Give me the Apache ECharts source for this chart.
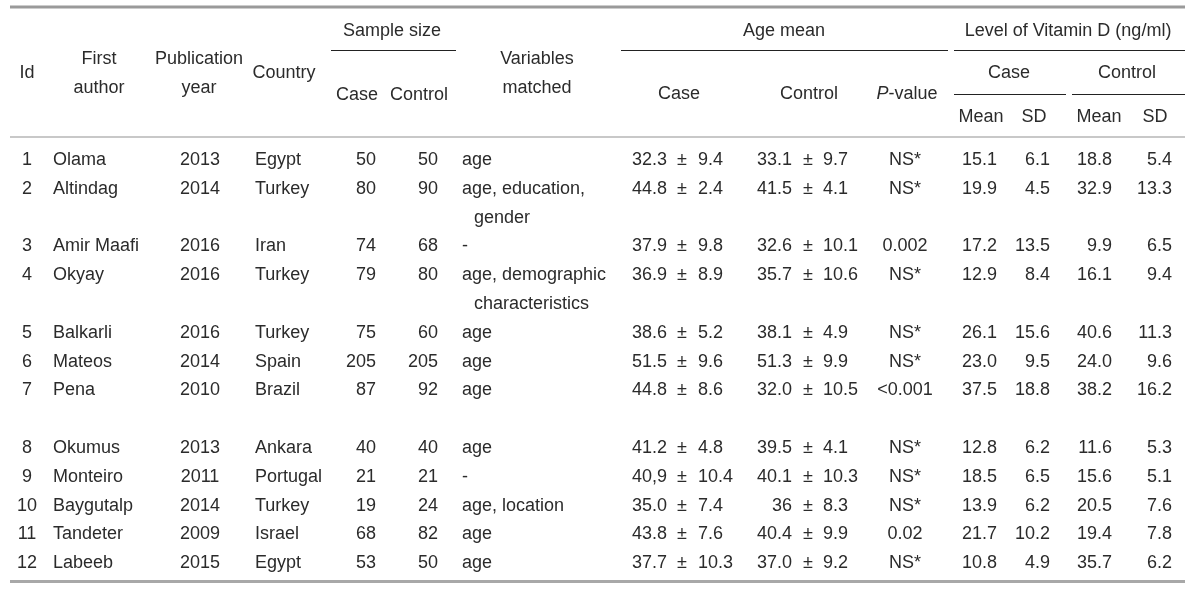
<!DOCTYPE html>
<html><head><meta charset="utf-8">
<script src="https://cdn.jsdelivr.net/npm/echarts@6/dist/echarts.min.js"></script>
<style>html,body{margin:0;padding:0;background:#fff}#c{width:1200px;height:598px}</style>
</head><body><div id="c"></div>
<script>
// ---------- data ----------
const ids = [1,2,3,4,5,6,7,8,9,10,11,12];
const authors = ['Olama','Altindag','Amir Maafi','Okyay','Balkarli','Mateos','Pena','Okumus','Monteiro','Baygutalp','Tandeter','Labeeb'];
const years = [2013,2014,2016,2016,2016,2014,2010,2013,2011,2014,2009,2015];
const countries = ['Egypt','Turkey','Iran','Turkey','Turkey','Spain','Brazil','Ankara','Portugal','Turkey','Israel','Egypt'];
const caseN = [50,80,74,79,75,205,87,40,21,19,68,53];
const controlN = [50,90,68,80,60,205,92,40,21,24,82,50];
const variablesMatched = [['age'],['age, education,','gender'],['-'],['age, demographic','characteristics'],['age'],['age'],['age'],['age'],['-'],['age, location'],['age'],['age']];
const ageCaseMean = ['32.3','44.8','37.9','36.9','38.6','51.5','44.8','41.2','40,9','35.0','43.8','37.7'];
const ageCaseSD = ['9.4','2.4','9.8','8.9','5.2','9.6','8.6','4.8','10.4','7.4','7.6','10.3'];
const ageCtrlMean = ['33.1','41.5','32.6','35.7','38.1','51.3','32.0','39.5','40.1','36','40.4','37.0'];
const ageCtrlSD = ['9.7','4.1','10.1','10.6','4.9','9.9','10.5','4.1','10.3','8.3','9.9','9.2'];
const pValues = ['NS*','NS*','0.002','NS*','NS*','NS*','<0.001','NS*','NS*','NS*','0.02','NS*'];
const vitCaseMean = ['15.1','19.9','17.2','12.9','26.1','23.0','37.5','12.8','18.5','13.9','21.7','10.8'];
const vitCaseSD = ['6.1','4.5','13.5','8.4','15.6','9.5','18.8','6.2','6.5','6.2','10.2','4.9'];
const vitCtrlMean = ['18.8','32.9','9.9','16.1','40.6','24.0','38.2','11.6','15.6','20.5','19.4','35.7'];
const vitCtrlSD = ['5.4','13.3','6.5','9.4','11.3','9.6','16.2','5.3','5.1','7.6','7.8','6.2'];

// ---------- layout ----------
const FONT = '"Liberation Sans", Arial, sans-serif';
const FS = 18;
const COLOR = '#2b2b2b';
const spacerAfterRow = 7;          // blank line after row 7
const ROW_H = 28.8;
const FIRST_ROW_Y = 160;
const L = 10, R = 1185;

// line index of every row
const lineIdx = [];
let ln = 0;
ids.forEach((id, i) => {
  lineIdx.push(ln);
  ln += variablesMatched[i].length;
  if (id === spacerAfterRow) ln += 1;
});
const nLines = ln;
const gridTop = FIRST_ROW_Y - ROW_H / 2;
const gridH = ROW_H * nLines;

// column anchors (x) and alignments
const COL = {
  id: [27, 'center'], author: [53, 'left'], year: [200, 'center'], country: [255, 'left'],
  caseN: [376, 'right'], ctrlN: [438, 'right'], vars: [462, 'left'], varsIndent: 12,
  acMean: [667, 'right'], acPm: [682, 'center'], acSD: [698, 'left'],
  aoMean: [792, 'right'], aoPm: [808, 'center'], aoSD: [823, 'left'],
  p: [905, 'center'],
  vcMean: [997, 'right'], vcSD: [1050, 'right'], voMean: [1112, 'right'], voSD: [1172, 'right']
};

function txt(x, y, text, align, extra) {
  return Object.assign({
    type: 'text', x: x, y: y,
    style: { text: String(text), fill: COLOR, fontSize: FS, fontFamily: FONT, align: align, verticalAlign: 'middle' }
  }, extra || {});
}

function renderRow(params, api) {
  const i = params.dataIndex;
  const li = api.value(1);
  const cy = api.coord([0, li])[1];
  const X = (k) => api.coord([COL[k][0], li])[0];
  const kids = [];
  const put = (k, t) => kids.push(txt(X(k), cy, t, COL[k][1]));
  put('id', ids[i]);
  put('author', authors[i]);
  put('year', years[i]);
  put('country', countries[i]);
  put('caseN', caseN[i]);
  put('ctrlN', controlN[i]);
  variablesMatched[i].forEach((v, j) => {
    const yy = api.coord([0, li + j])[1];
    const xx = api.coord([COL.vars[0] + (j > 0 ? COL.varsIndent : 0), li])[0];
    kids.push(txt(xx, yy, v, 'left'));
  });
  put('acMean', ageCaseMean[i]); put('acPm', '±'); put('acSD', ageCaseSD[i]);
  put('aoMean', ageCtrlMean[i]); put('aoPm', '±'); put('aoSD', ageCtrlSD[i]);
  put('p', pValues[i]);
  put('vcMean', vitCaseMean[i]); put('vcSD', vitCaseSD[i]);
  put('voMean', vitCtrlMean[i]); put('voSD', vitCtrlSD[i]);
  return { type: 'group', children: kids };
}

// ---------- header (layout, not data) ----------
function htext(x, y, text, rich) {
  const s = { text: text, fill: COLOR, fontSize: FS, fontFamily: FONT, align: 'center', verticalAlign: 'middle' };
  if (rich) s.rich = rich;
  return { type: 'text', x: x, y: y, style: s, silent: true };
}
function hline(x1, x2, y, w, c) {
  return { type: 'line', shape: { x1: x1, y1: y, x2: x2, y2: y }, style: { stroke: c, lineWidth: w }, silent: true };
}
const bottomY = gridTop + gridH + 4;
const header = [
  hline(L, R, 7, 3, '#9a9a9a'),
  htext(392, 31, 'Sample size'),
  htext(784, 31, 'Age mean'),
  htext(1068, 31, 'Level of Vitamin D (ng/ml)'),
  hline(331, 456, 50.5, 1, '#222'),
  hline(621, 948, 50.5, 1, '#222'),
  hline(954, R, 50.5, 1, '#222'),
  htext(27, 73, 'Id'),
  htext(99, 59, 'First'), htext(99, 88, 'author'),
  htext(199, 59, 'Publication'), htext(199, 88, 'year'),
  htext(284, 73, 'Country'),
  htext(357, 95, 'Case'), htext(419, 95, 'Control'),
  htext(537, 59, 'Variables'), htext(537, 88, 'matched'),
  htext(679, 94, 'Case'), htext(809, 94, 'Control'),
  htext(907, 94, '{i|P}-value', { i: { fontStyle: 'italic', fontSize: FS, fontFamily: FONT, fill: COLOR } }),
  htext(1009, 73, 'Case'), htext(1127, 73, 'Control'),
  hline(954, 1066, 94.5, 1, '#222'),
  hline(1072, R, 94.5, 1, '#222'),
  htext(981, 117, 'Mean'), htext(1034, 117, 'SD'), htext(1099, 117, 'Mean'), htext(1155, 117, 'SD'),
  hline(L, R, 137, 2, '#c8c8c8'),
  hline(L, R, bottomY, 3, '#a8a8a8')
];

const chart = echarts.init(document.getElementById('c'), null, { renderer: 'canvas' });
chart.setOption({
  animation: false,
  backgroundColor: '#fff',
  grid: { left: 0, right: 0, top: gridTop, height: gridH },
  xAxis: { type: 'value', min: 0, max: 1200, show: false },
  yAxis: { type: 'category', inverse: true, show: false, boundaryGap: true,
           data: Array.from({ length: nLines }, (_, k) => String(k)) },
  graphic: header,
  series: [{
    type: 'custom',
    renderItem: renderRow,
    data: ids.map((id, i) => [0, lineIdx[i]]),
    silent: true
  }]
});
</script></body></html>
